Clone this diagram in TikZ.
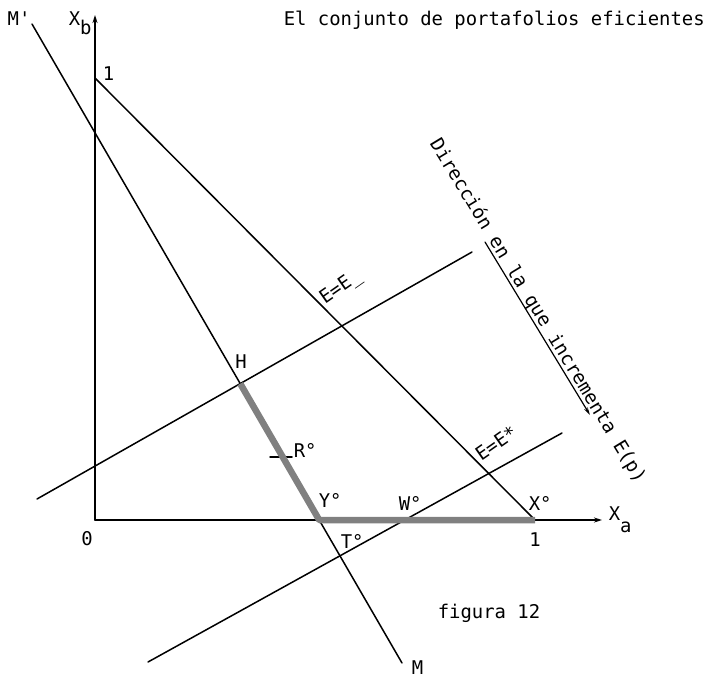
\documentclass[tikz,border=0pt]{standalone}
\usepackage{fontspec}
\setmonofont{DejaVu Sans Mono}
\usetikzlibrary{arrows.meta}

\begin{document}
\begin{tikzpicture}[x=1pt, y=-1pt, line width=1.5pt, line cap=round, line join=round,
  lbl/.style={inner sep=0pt, font=\fontsize{18.9}{22}\selectfont\ttfamily},
  band/.style={line width=6.5pt, line cap=butt, draw=black!50}]

  %% ════ 关键点 ════
  \coordinate (O)    at (95,520);
  \coordinate (Xtip) at (602,520);
  \coordinate (Ytip) at (95,15);
  \coordinate (B1)   at (95,78);
  \coordinate (A1)   at (535,520);
  \coordinate (Mp)   at (32,24);
  \coordinate (M)    at (402,663);
  \coordinate (U1)   at (37,499);
  \coordinate (U2)   at (472,252);
  \coordinate (L1)   at (148,662);
  \coordinate (L2)   at (562,433);
  \coordinate (H)  at (intersection of Mp--M and U1--U2);
  \coordinate (Yo) at (intersection of Mp--M and O--A1);
  \coordinate (To) at (intersection of Mp--M and L1--L2);
  \coordinate (Wo) at (intersection of L1--L2 and O--A1);

  %% ════ 坐标轴 ════
  \draw[-{Stealth[length=8pt,width=5pt]}] (O) -- (Xtip);
  \draw[-{Stealth[length=8pt,width=5pt]}] (O) -- (Ytip);

  %% ════ 直线 ════
  \draw (B1) -- (A1);
  \draw (Mp) -- (M);
  \draw (U1) -- (U2);
  \draw (L1) -- (L2);
  \draw (270,457) -- (292,457);   % R° 刻度

  %% ════ 有效集（灰带）════
  \draw[band] (H) -- (Yo) -- (A1);

  %% ════ 方向箭头 ════
  \coordinate (D0) at (485,242);
  \coordinate (D1) at (590,415);
  \draw[line width=1.2pt, -{Stealth[length=8pt,width=4pt]}] (D0) -- (D1);

  %% ════ 标签 ════
  \node[lbl, anchor=base west] (title) at (283,25) {El conjunto de portafolios eficientes};
  \node[lbl, anchor=base west] (lMp) at (7,25) {M'};
  \node[lbl, anchor=base west] (lXb) at (68,25) {X\raisebox{-9pt}{b}};
  \node[lbl, anchor=base west] (lXa) at (608,520) {X\raisebox{-12pt}{a}};
  \node[lbl, anchor=base] (lB1) at (108.5,80) {1};
  \node[lbl, anchor=base] (lO)  at (87,545) {0};
  \node[lbl, anchor=base] (lA1) at (535,546) {1};
  \node[lbl, anchor=base] (lH)  at (241,368) {H};
  \node[lbl, anchor=base west] (lR) at (293,457) {R°};
  \node[lbl, anchor=base west] (lY) at (318,507) {Y°};
  \node[lbl, anchor=base west] (lW) at (398,510) {W°};
  \node[lbl, anchor=base west] (lX) at (528,510) {X°};
  \node[lbl, anchor=base west] (lT) at (340,548) {T°};
  \node[lbl, anchor=base west] (lM) at (411,674) {M};
  \node[lbl, rotate=35] (lE1) at (341,288) {E=E\_};
  \node[lbl, rotate=35] (lE2) at (496,443) {E=E*};
  \node[lbl, anchor=base west, rotate=-58.7] (ldir) at (429,143) {Dirección en la que incrementa E(p)};
  \node[lbl, anchor=base west] (lfig) at (437,618) {figura 12};

  % 固定画布
  \pgfresetboundingbox
  \path[use as bounding box] (0,0) rectangle (711,678);
\end{tikzpicture}
\end{document}
